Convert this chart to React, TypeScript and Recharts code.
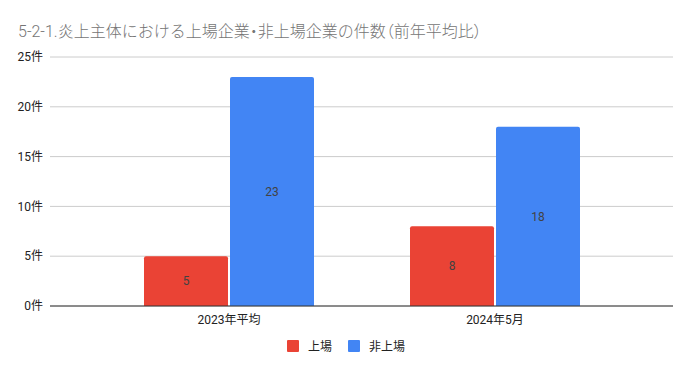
import { BarChart, Bar, XAxis, YAxis, CartesianGrid, Legend, LabelList } from 'recharts'

const categories = ['2023年平均', '2024年5月']
const listed = [5, 8]
const unlisted = [23, 18]
const yTicks = [0, 5, 10, 15, 20, 25]

const data = categories.map((name, i) => ({ name, listed: listed[i], unlisted: unlisted[i] }))

const FONT = "Roboto, 'Noto Sans CJK JP', sans-serif"

function LegendContent({ payload }: any) {
  return (
    <div style={{ display: 'flex', justifyContent: 'center', fontFamily: FONT, fontSize: 12, color: '#222' }}>
      {(payload || []).map((p: any, i: number) => (
        <div key={i} style={{ display: 'flex', alignItems: 'center', marginRight: i === 0 ? 16 : 0 }}>
          <span style={{ width: 12, height: 12, background: p.color, borderRadius: 1, marginRight: 9, display: 'inline-block' }} />
          <span>{p.value}</span>
        </div>
      ))}
    </div>
  )
}

const narrow = { fontFeatureSettings: '"palt"' }

export default function App() {
  return (
    <div style={{ position: 'absolute', left: 0, top: 0, width: 692, height: 371, background: '#fff' }}>
      <div style={{ position: 'absolute', left: 18, top: 18, fontFamily: FONT, fontSize: 16, fontWeight: 300, color: '#757575', whiteSpace: 'nowrap' }}>
        5-2-1.炎上主体における上場企業<span style={narrow}>・</span>非上場企業の件数<span style={narrow}>（</span>前年平均比<span style={narrow}>）</span>
      </div>
      <BarChart
        width={692}
        height={371}
        data={data}
        margin={{ top: 57, right: 19, left: 0, bottom: 35 }}
        barGap={2}
        barSize={84}
      >
        <CartesianGrid stroke="#cccccc" vertical={false} />
        <XAxis
          dataKey="name"
          padding={{ left: 46, right: 45 }}
          tickLine={false}
          tickSize={0}
          tickMargin={9}
          axisLine={{ stroke: '#333333' }}
          tick={{ fontSize: 12, fill: '#222', fontFamily: FONT }}
          height={30}
        />
        <YAxis
          width={50}
          domain={[0, 25]}
          ticks={yTicks}
          tickFormatter={(v: number) => `${v}件`}
          axisLine={false}
          tickLine={false}
          tickSize={0}
          tickMargin={7}
          tick={{ fontSize: 12, fill: '#222', fontFamily: FONT }}
        />
        <Legend
          verticalAlign="middle"
          align="center"
          layout="horizontal"
          wrapperStyle={{ top: 337, left: 0, width: 692 }}
          content={<LegendContent />}
        />
        <Bar dataKey="listed" name="上場" fill="#EA4335" radius={[2, 2, 0, 0]} isAnimationActive={false}>
          <LabelList dataKey="listed" position="center" fill="#424242" fontSize={12} fontFamily={FONT} />
        </Bar>
        <Bar dataKey="unlisted" name="非上場" fill="#4285F4" radius={[2, 2, 0, 0]} isAnimationActive={false}>
          <LabelList dataKey="unlisted" position="center" fill="#424242" fontSize={12} fontFamily={FONT} />
        </Bar>
      </BarChart>
    </div>
  )
}
